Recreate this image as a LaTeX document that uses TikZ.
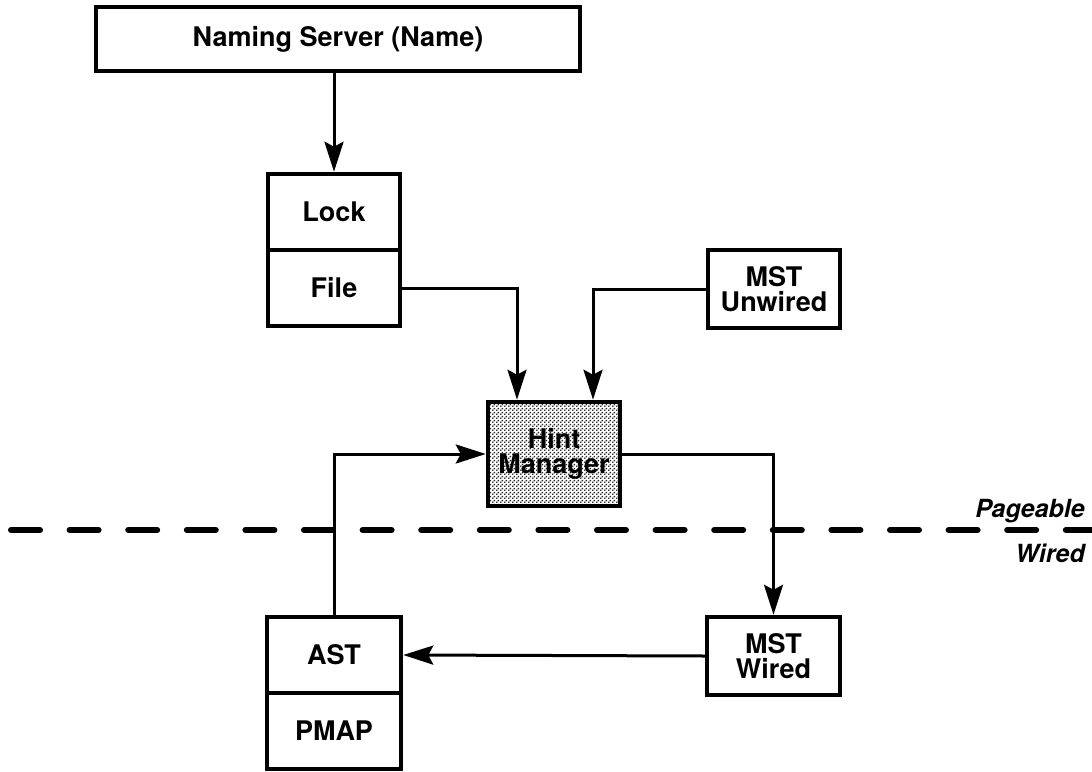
\documentclass[tikz,border=0pt]{standalone}
\usepackage{fontspec}
\setsansfont{TeX Gyre Heros}
\usetikzlibrary{arrows.meta,patterns.meta,calc}

\newcommand\lblfont{\sffamily\bfseries\fontsize{27}{25}\selectfont}

% fine halftone screen for the shaded box
\tikzdeclarepattern{
  name=halftone,
  type=uncolored,
  bounding box={(0pt,0pt) and (4pt,4pt)},
  tile size={(4pt,4pt)},
  code={
    \pgfpathcircle{\pgfpoint{1pt}{1pt}}{1.1pt}
    \pgfpathcircle{\pgfpoint{3pt}{3pt}}{1.1pt}
    \pgfusepath{fill}
  }
}

\begin{document}
\begin{tikzpicture}[x=1pt,y=-1pt,
  box/.style={draw, line width=4.5pt, fill=white, minimum width=132pt,
    minimum height=76pt, inner sep=0pt, align=center, font=\lblfont},
  link/.style={line width=3pt, -{Stealth[length=30pt,width=19pt,inset=5pt]}},
  boundary/.style={line width=6pt, line cap=round, dash pattern=on 29pt off 29.6pt},
  zone/.style={font=\sffamily\bfseries\itshape\fontsize{25}{25}\selectfont, anchor=base east, inner sep=0pt}]

  \useasboundingbox[fill=white] (0,0) rectangle (1092,771);

  % pageable / wired boundary
  \draw[boundary] (11,530) -- (1100,530);
  \node[zone] (pageable) at (1085,517) {Pageable};
  \node[zone] (wired) at (1085,562) {Wired};

  % components
  \node[box, minimum width=484pt, minimum height=64pt] (ns) at (338,39) {Naming Server (Name)};
  \node[box] (lock) at (334,212) {Lock};
  \node[box] (file) at (334,288) {File};
  \node[box, minimum height=78pt] (mstu) at (774,289) {MST\\Unwired};
  \node[box, fill=none, pattern={halftone}, pattern color=black!85, minimum height=104pt] (hint) at (554,454) {Hint\\Manager};
  \node[box, minimum width=133pt, minimum height=78pt] (mstw) at (773.5,656) {MST\\Wired};
  \node[box, minimum width=134pt] (ast) at (334,655) {AST};
  \node[box, minimum width=134pt] (pmap) at (334,731) {PMAP};

  % connectors
  \draw[link] (lock.north |- ns.south) -- (lock.north);
  \draw[link] (file.east) -| ($(hint.north)+(-37,0)$);
  \draw[link] (mstu.west) -| ($(hint.north)+(39,0)$);
  \draw[link] (hint.east) -| (mstw.north);
  \draw[link] (mstw.west) -- (ast.east);
  \draw[link] (ast.north) |- (hint.west);
\end{tikzpicture}
\end{document}
